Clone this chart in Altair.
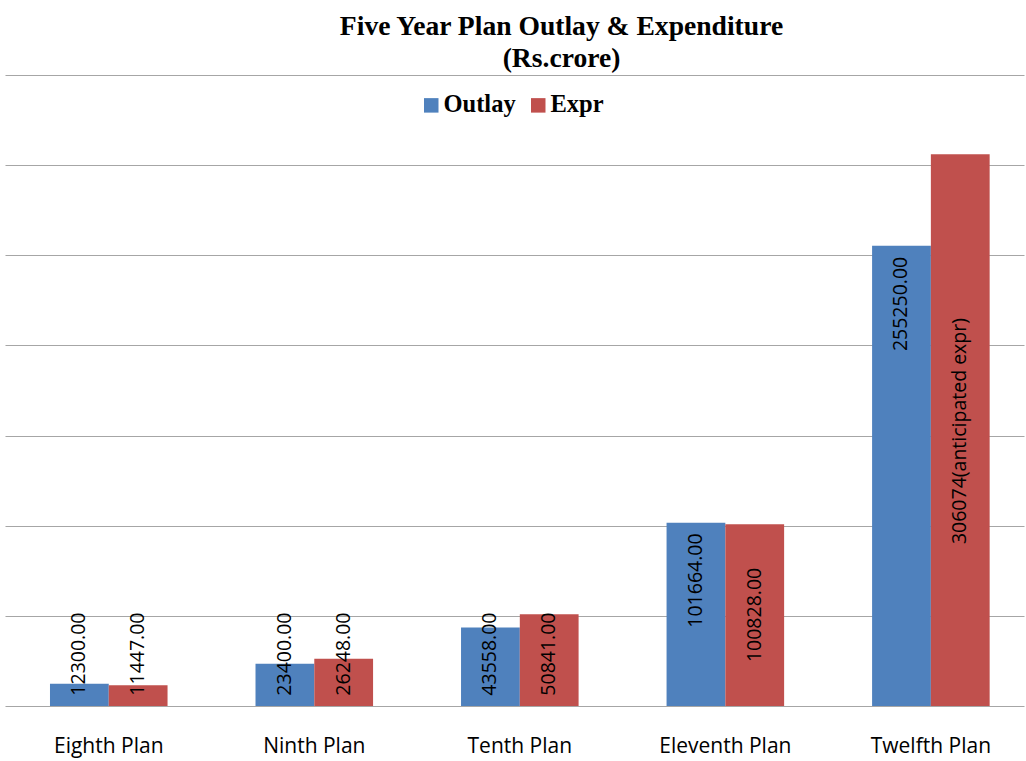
import altair as alt
import pandas as pd

plans = ["Eighth Plan", "Ninth Plan", "Tenth Plan", "Eleventh Plan", "Twelfth Plan"]
outlay = [12300, 23400, 43558, 101664, 255250]
expr = [11447, 26248, 50841, 100828, 306074]
outlay_text = ["12300.00", "23400.00", "43558.00", "101664.00", "255250.00"]
expr_text = ["11447.00", "26248.00", "50841.00", "100828.00", "306074(anticipated expr)"]
# label centres (data units) as placed in the original chart
outlay_label_pos = [28800, 28800, 28800, 69600, 223000]
expr_label_pos = [28800, 28800, 28800, 50500, 152500]

series = ["Outlay", "Expr"]
colors = ["#4F81BD", "#C0504D"]

rows = []
for i, p in enumerate(plans):
    rows.append({"plan": p, "series": "Outlay", "value": outlay[i], "label": outlay_text[i], "lpos": outlay_label_pos[i]})
    rows.append({"plan": p, "series": "Expr", "value": expr[i], "label": expr_text[i], "lpos": expr_label_pos[i]})
df = pd.DataFrame(rows)

x_enc = alt.X("plan:N", sort=plans, title=None,
              scale=alt.Scale(paddingInner=0.428, paddingOuter=0.193, align=0.567),
              axis=alt.Axis(domain=False, ticks=False, labelAngle=0, labelFont="Open Sans",
                            labelFontSize=21, labelColor="#000000", labelPadding=29))
xo = alt.XOffset("series:N", sort=series, scale=alt.Scale(domain=series))

bars = alt.Chart(df).mark_bar().encode(
    x=x_enc,
    xOffset=xo,
    y=alt.Y("value:Q", title=None,
            scale=alt.Scale(domain=[0, 350000], nice=False),
            axis=alt.Axis(values=[0, 50000, 100000, 150000, 200000, 250000, 300000, 350000],
                          labels=False, ticks=False, domain=False, grid=True,
                          gridColor="#A6A6A6", gridWidth=1.2)),
    color=alt.Color("series:N", sort=series,
                    scale=alt.Scale(domain=series, range=colors),
                    legend=alt.Legend(title=None, orient="none", direction="horizontal",
                                      legendX=414, legendY=18, symbolType="square",
                                      symbolSize=210, symbolStrokeWidth=0,
                                      labelFont="Liberation Serif", labelFontWeight="bold",
                                      labelFontSize=24.5, labelColor="#000000",
                                      labelOffset=0, columnPadding=10)),
)

labels = alt.Chart(df).mark_text(angle=270, align="center", baseline="middle",
                                 font="Open Sans", fontSize=19.5, color="#000000").encode(
    x=alt.X("plan:N", sort=plans),
    xOffset=xo,
    y=alt.Y("lpos:Q"),
    text="label:N",
)

chart = alt.layer(bars, labels).properties(
    width=1019, height=631,
    padding={"left": 5, "top": 75, "right": 2, "bottom": 55},
    autosize=alt.AutoSizeParams(type="none"),
    title=alt.TitleParams(text=["Five Year Plan Outlay & Expenditure", "(Rs.crore)"],
                          font="Liberation Serif", fontSize=27.6, fontWeight="bold",
                          lineHeight=32, anchor="middle", dx=47, offset=2, color="#000000"),
).configure_view(stroke=None)

chart.save("out.html", embed_options={"renderer": "svg", "actions": False})
